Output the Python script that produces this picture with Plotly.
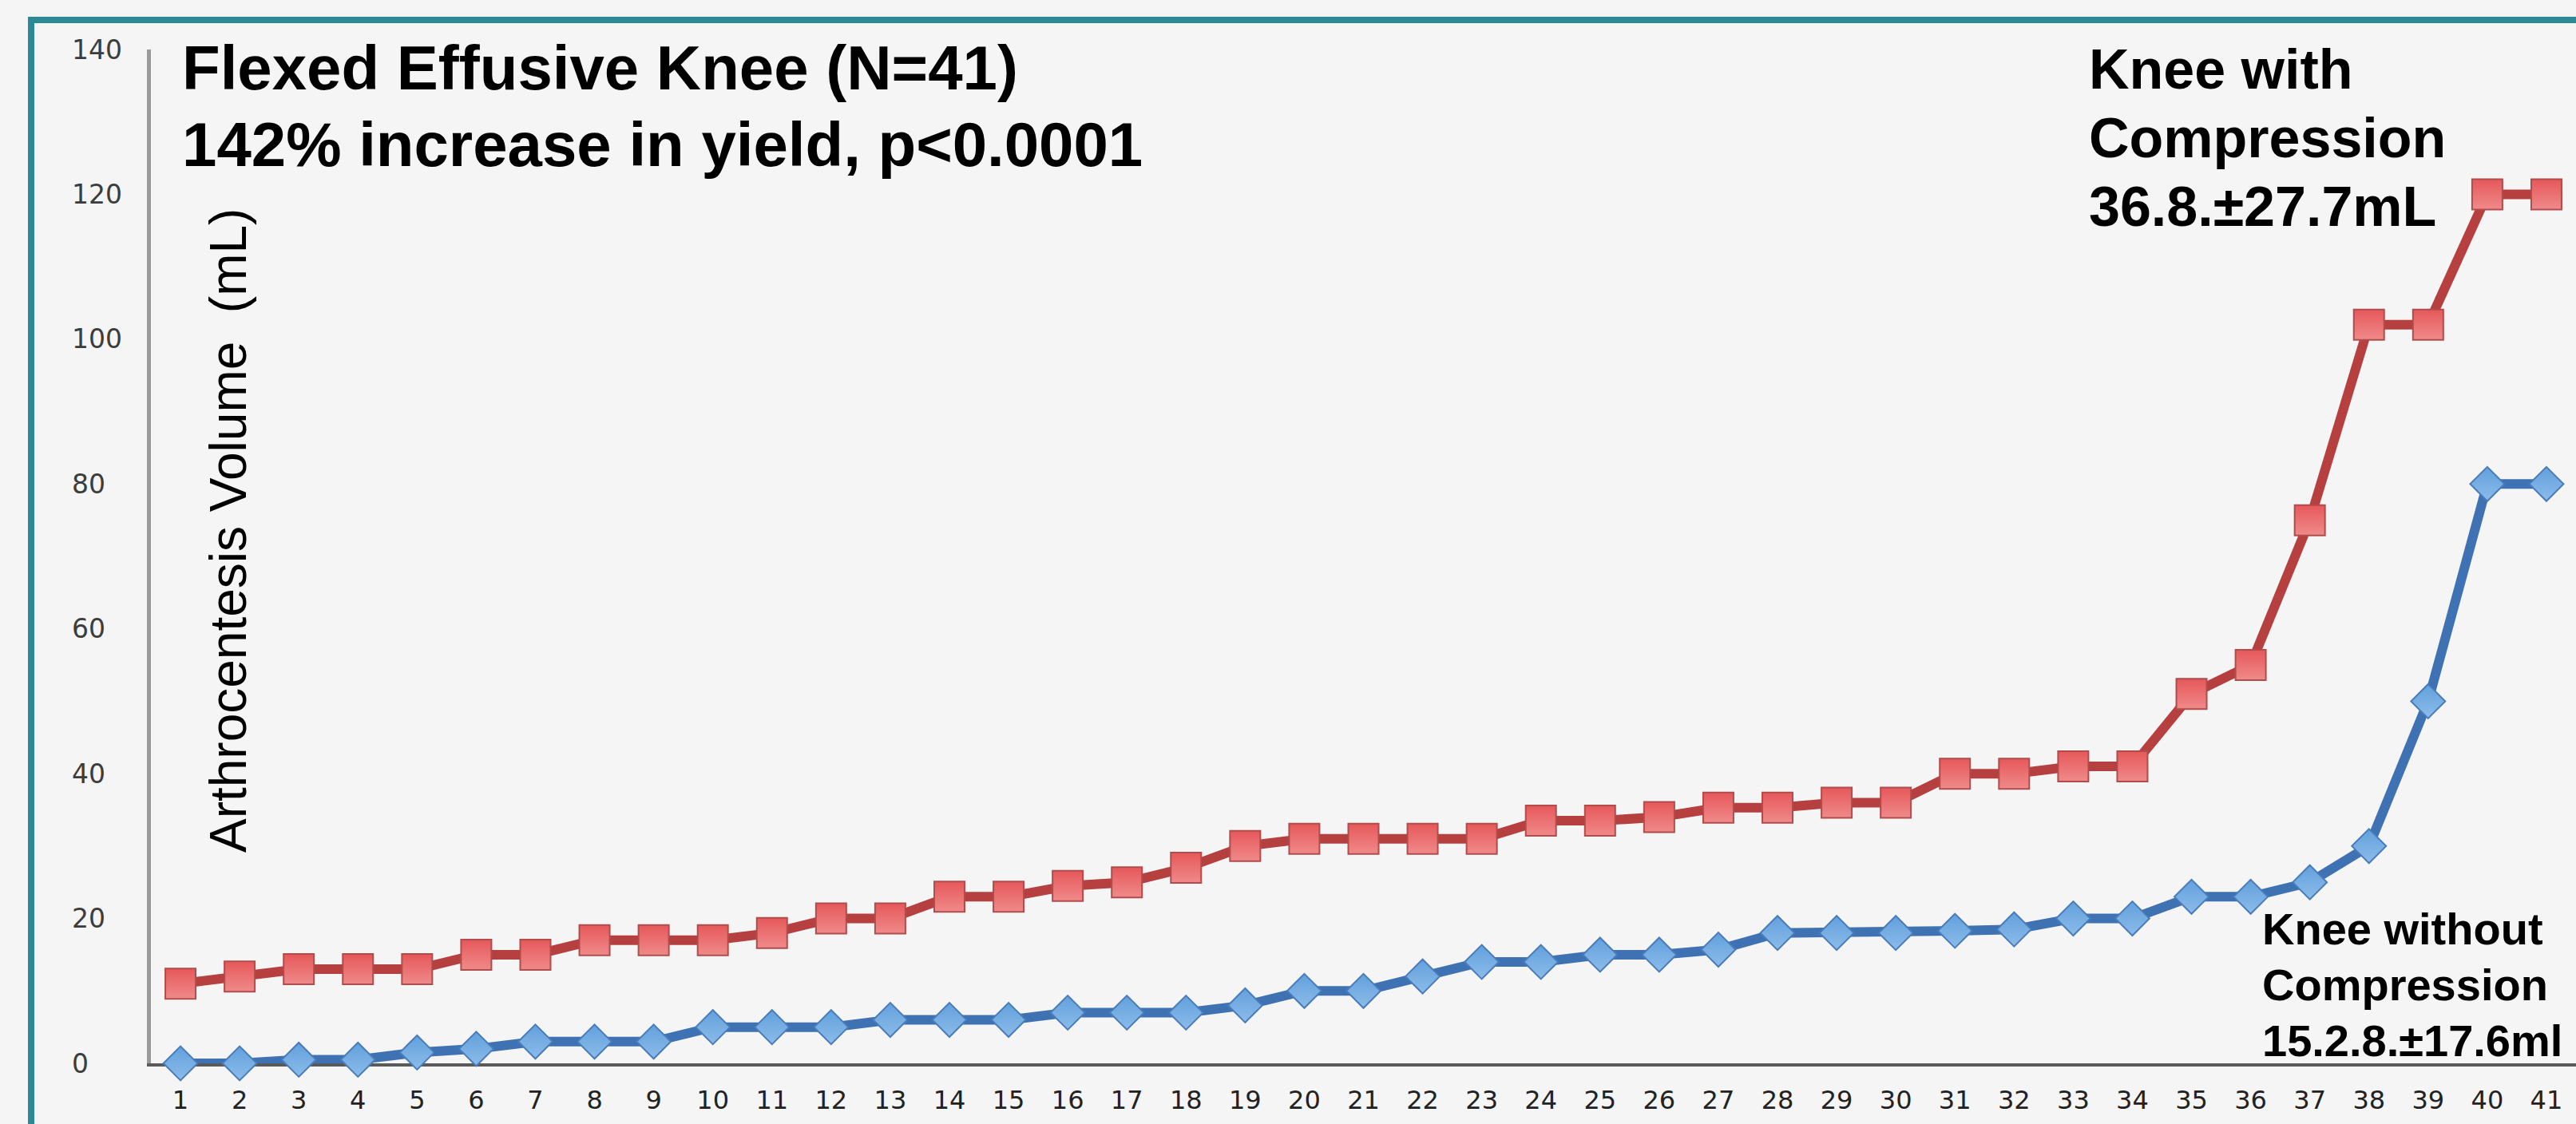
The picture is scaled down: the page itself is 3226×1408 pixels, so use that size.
import plotly.graph_objects as go

# ---------------- data ----------------
patients = list(range(1, 42))
tick_labels = [str(p) for p in patients]

with_compression = [11, 12, 13, 13, 13, 15, 15, 17, 17, 17,
                    18, 20, 20, 23, 23, 24.5, 25, 27, 30, 31,
                    31, 31, 31, 33.5, 33.5, 34, 35.3, 35.3, 36, 36,
                    40, 40, 41, 41, 51, 55, 75, 102, 102, 120, 120]

without_compression = [0, 0, 0.5, 0.5, 1.5, 2, 3, 3, 3, 5,
                       5, 5, 6, 6, 6, 7, 7, 7, 8, 10,
                       10, 12, 14, 14, 15, 15, 15.7, 18, 18, 18,
                       18.3, 18.5, 20, 20, 23, 23, 25, 30, 50, 80, 80]

y_ticks = [0, 20, 40, 60, 80, 100, 120, 140]

title_lines = ["Flexed Effusive Knee (N=41)",
               "142% increase in yield, p<0.0001"]
with_label_lines = ["Knee with", "Compression", "36.8.±27.7mL"]
without_label_lines = ["Knee without", "Compression", "15.2.8.±17.6ml"]
y_title = "Arthrocentesis Volume  (mL)"

# ---------------- layout geometry ----------------
W, H = 3226, 1408
ML, MR, MT, MB = 189, 0, 62, 76
PW = W - ML - MR
PH = H - MT - MB


def px_x(px):
    return (px - ML) / PW


def px_y(py):
    return (H - MB - py) / PH


BG = "#f5f5f5"
TEAL = "#2b8896"

fig = go.Figure()

fig.add_trace(go.Scatter(
    x=patients, y=without_compression, mode="lines+markers",
    line=dict(color="#3f72b3", width=12),
    marker=dict(symbol="diamond", size=33, color="#62a0dc",
                line=dict(color="#4a7cba", width=2),
                gradient=dict(type="vertical", color="#8cbcea")),
    cliponaxis=False, showlegend=False,
))

fig.add_trace(go.Scatter(
    x=patients, y=with_compression, mode="lines+markers",
    line=dict(color="#b5403f", width=12),
    marker=dict(symbol="square", size=38, color="#e6585a",
                line=dict(color="#b04d4c", width=2),
                gradient=dict(type="vertical", color="#f08a8a")),
    cliponaxis=False, showlegend=False,
))

annotations = []

# y tick labels (left aligned, as in the reference)
for v in y_ticks:
    annotations.append(dict(
        x=px_x(88), xref="paper", y=v, yref="y",
        text=str(v), showarrow=False, xanchor="left", yanchor="middle",
        font=dict(family="DejaVu Sans", size=33, color="#3c3c3c"),
    ))

# title lines
for txt, cy in zip(title_lines, [85, 181]):
    annotations.append(dict(
        x=px_x(226), xref="paper", y=px_y(cy), yref="paper",
        text="<b>%s</b>" % txt, showarrow=False, xanchor="left", yanchor="middle",
        font=dict(family="Liberation Sans, Arial", size=78, color="#000000"),
    ))

for txt, cy in zip(with_label_lines, [87, 173, 259]):
    annotations.append(dict(
        x=px_x(2614), xref="paper", y=px_y(cy), yref="paper",
        text="<b>%s</b>" % txt, showarrow=False, xanchor="left", yanchor="middle",
        font=dict(family="Liberation Sans, Arial", size=70, color="#000000"),
    ))

for txt, cy in zip(without_label_lines, [1163, 1233, 1303]):
    annotations.append(dict(
        x=px_x(2831), xref="paper", y=px_y(cy), yref="paper",
        text="<b>%s</b>" % txt, showarrow=False, xanchor="left", yanchor="middle",
        font=dict(family="Liberation Sans, Arial", size=56, color="#000000"),
    ))

annotations.append(dict(
    x=px_x(286), xref="paper", y=px_y(665), yref="paper",
    text=y_title, textangle=-90, showarrow=False,
    xanchor="center", yanchor="middle",
    font=dict(family="Liberation Sans, Arial", size=64, color="#000000"),
))

shapes = [
    dict(type="line", xref="paper", yref="paper",
         x0=px_x(39), y0=px_y(H), x1=px_x(39), y1=px_y(21),
         line=dict(color=TEAL, width=8), layer="below"),
    dict(type="line", xref="paper", yref="paper",
         x0=px_x(35), y0=px_y(25), x1=px_x(W), y1=px_y(25),
         line=dict(color=TEAL, width=8), layer="below"),
]

fig.update_layout(
    width=W, height=H,
    margin=dict(l=ML, r=MR, t=MT, b=MB, pad=0),
    paper_bgcolor=BG, plot_bgcolor=BG,
    annotations=annotations, shapes=shapes,
    xaxis=dict(
        range=[0.5, 41.5], tickmode="array", tickvals=patients, ticktext=tick_labels,
        showgrid=False, zeroline=False, showline=True, linecolor="#5a5a5a", linewidth=4,
        ticks="", ticklabelstandoff=15, layer="below traces",
        tickfont=dict(family="DejaVu Sans", size=32, color="#222222"),
    ),
    yaxis=dict(
        range=[0, 140], tickvals=y_ticks, showticklabels=False,
        showgrid=False, zeroline=False, showline=True, linecolor="#9a9a9a", linewidth=5,
        ticks="", layer="below traces",
    ),
)

fig.write_html(
    "out.html",
    config={"displayModeBar": False},
    post_script="document.body.style.margin='0';document.body.style.overflow='hidden';",
)
